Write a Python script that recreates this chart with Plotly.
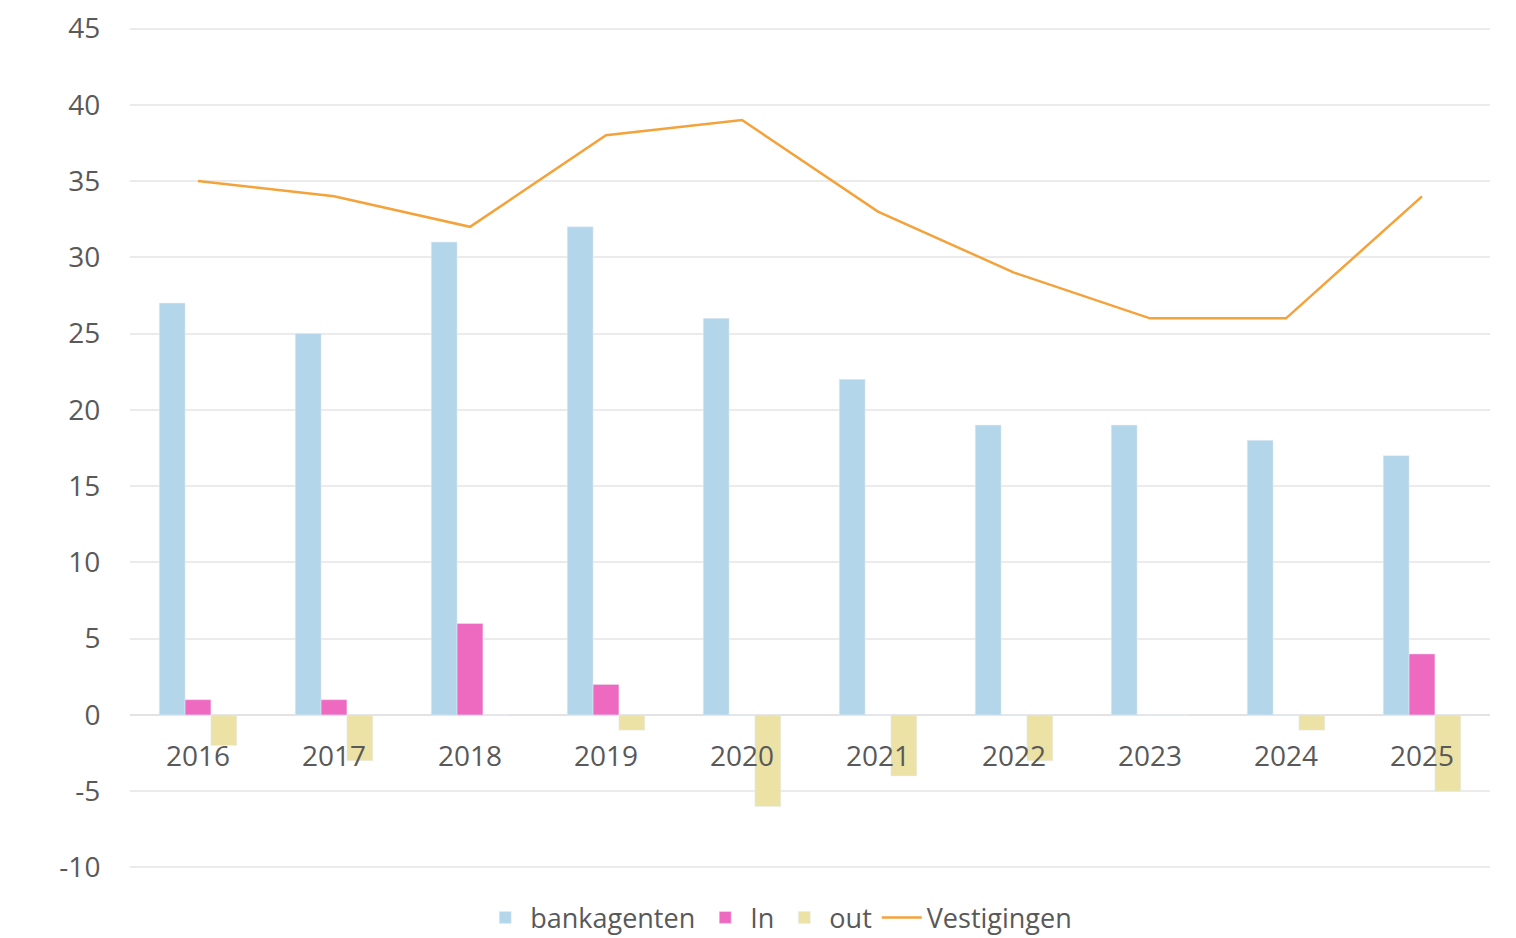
import plotly.graph_objects as go

years = ["2016", "2017", "2018", "2019", "2020", "2021", "2022", "2023", "2024", "2025"]
bankagenten = [27, 25, 31, 32, 26, 22, 19, 19, 18, 17]
instroom = [1, 1, 6, 2, 0, 0, 0, 0, 0, 4]
uitstroom = [-2, -3, 0, -1, -6, -4, -3, 0, -1, -5]
vestigingen = [35, 34, 32, 38, 39, 33, 29, 26, 26, 34]

y_ticks = [-10, -5, 0, 5, 10, 15, 20, 25, 30, 35, 40, 45]
y_ticklabels = ["-10", "-5", "0", "5", "10", "15", "20", "25", "30", "35", "40", "45"]

FONT = "Open Sans, Noto Sans, sans-serif"
GREY = "#595959"

fig = go.Figure()
fig.add_trace(go.Bar(x=years, y=bankagenten, name="bankagenten", marker_color="#b4d6ea"))
fig.add_trace(go.Bar(x=years, y=instroom, name="In", marker_color="#ee6ac0"))
fig.add_trace(go.Bar(x=years, y=uitstroom, name="out", marker_color="#ece2a5"))
fig.add_trace(go.Scatter(x=years, y=vestigingen, name="Vestigingen", mode="lines",
                         line=dict(color="#f4a23a", width=2.5)))

# a little padding so the 45 and -10 gridlines are still drawn
y_lo, y_hi = -10.1, 45.1
# y=0 sits at this fraction of the plot height, so the year labels hang off the zero line
zero_pos = (0 - y_lo) / (y_hi - y_lo)

fig.update_layout(
    width=1516, height=938,
    paper_bgcolor="white", plot_bgcolor="white",
    # page body adds 8px, margins are trimmed to match
    margin=dict(l=122, r=34, t=19, b=77, autoexpand=False),
    barmode="group", bargap=0.43, bargroupgap=0,
    font=dict(family=FONT, size=28, color=GREY),
    showlegend=True,
    legend=dict(orientation="h", x=0.477, xanchor="center",
                yref="container", y=0.03, yanchor="middle",
                font=dict(size=27, color=GREY), traceorder="normal",
                itemwidth=40, tracegroupgap=0),
    xaxis=dict(anchor="free", position=zero_pos, showgrid=False, showline=False,
               automargin=False, ticks="outside", ticklen=16, tickcolor="rgba(0,0,0,0)",
               tickfont=dict(size=28, color=GREY)),
    yaxis=dict(range=[y_lo, y_hi], tickvals=y_ticks, ticktext=y_ticklabels,
               showgrid=True, gridcolor="#ebebeb", gridwidth=1.5,
               zeroline=True, zerolinecolor="#e3e3e3", zerolinewidth=2, automargin=False,
               ticks="outside", ticklen=23, tickcolor="rgba(0,0,0,0)",
               tickfont=dict(size=28, color=GREY)),
)

fig.write_html("out.html")
